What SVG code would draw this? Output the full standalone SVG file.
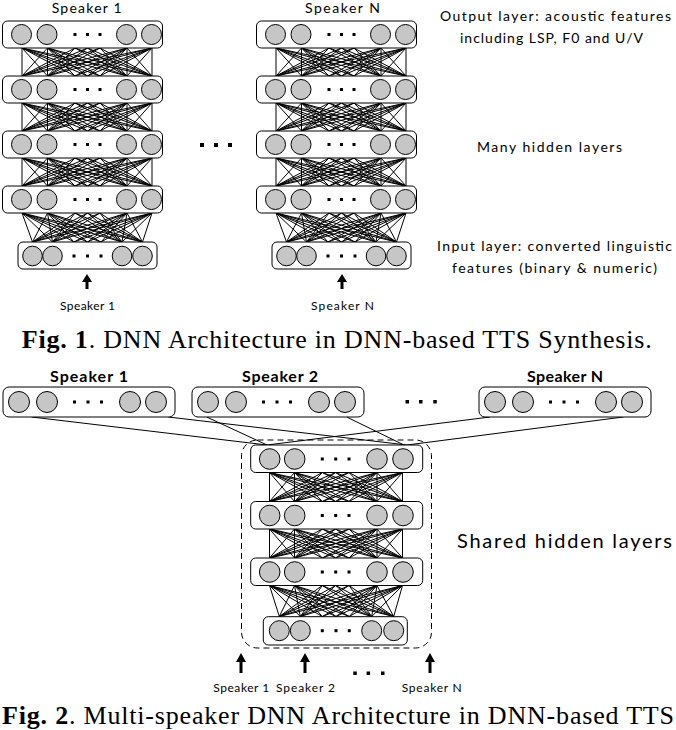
<svg xmlns="http://www.w3.org/2000/svg" xmlns:xlink="http://www.w3.org/1999/xlink" width="676" height="730" viewBox="0 0 676 730">
<style>
.box{fill:#fff;stroke:#000;stroke-width:1}
.n{fill:#c6c6c6;stroke:#000;stroke-width:1}
.dot{fill:#000}
.cn{fill:none;stroke:#000;stroke-width:1}
.arr{fill:#000}
.lbl{font-family:Lato,"Open Sans","DejaVu Sans",sans-serif;fill:#000;text-anchor:middle}
.cap{font-family:"Liberation Serif","Times New Roman",serif;font-size:26px;fill:#000}
.b{font-weight:bold}
</style>
<defs>
<g id="L1h">
<rect class="box" x="2.5" y="0" width="160" height="27" rx="5"/>
<circle class="n" cx="21.5" cy="13.5" r="10"/>
<circle class="n" cx="47" cy="13.5" r="10"/>
<circle class="n" cx="126.5" cy="13.5" r="10"/>
<circle class="n" cx="151.5" cy="13.5" r="10"/>
<rect class="dot" x="73.5" y="12" width="3" height="3"/>
<rect class="dot" x="86" y="12" width="3" height="3"/>
<rect class="dot" x="98.5" y="12" width="3" height="3"/>
</g>
<g id="L1i">
<rect class="box" x="18" y="0" width="139" height="27" rx="5"/>
<circle class="n" cx="32.5" cy="14" r="9.8"/>
<circle class="n" cx="52.5" cy="14" r="9.8"/>
<circle class="n" cx="122" cy="14" r="9.8"/>
<circle class="n" cx="142.5" cy="14" r="9.8"/>
<rect class="dot" x="72.5" y="12.5" width="3" height="3"/>
<rect class="dot" x="86" y="12.5" width="3" height="3"/>
<rect class="dot" x="99.5" y="12.5" width="3" height="3"/>
</g>
<g id="SP">
<rect class="box" x="0" y="0" width="172" height="30" rx="6"/>
<circle class="n" cx="16" cy="15" r="10.5"/>
<circle class="n" cx="44" cy="15" r="10.5"/>
<circle class="n" cx="127" cy="15" r="10.5"/>
<circle class="n" cx="153" cy="15" r="10.5"/>
<rect class="dot" x="70" y="13.5" width="3" height="3"/>
<rect class="dot" x="83.5" y="13.5" width="3" height="3"/>
<rect class="dot" x="97" y="13.5" width="3" height="3"/>
</g>
<g id="L2h">
<rect class="box" x="0" y="0" width="172" height="27.5" rx="5"/>
<circle class="n" cx="19" cy="14" r="10.3"/>
<circle class="n" cx="44" cy="14" r="10.3"/>
<circle class="n" cx="126.3" cy="14" r="10.3"/>
<circle class="n" cx="152.3" cy="14" r="10.3"/>
<rect class="dot" x="70.1" y="12.5" width="3" height="3"/>
<rect class="dot" x="83.5" y="12.5" width="3" height="3"/>
<rect class="dot" x="96.8" y="12.5" width="3" height="3"/>
</g>
<g id="L2i">
<rect class="box" x="0" y="0" width="144" height="28.3" rx="5"/>
<circle class="n" cx="16" cy="14" r="10"/>
<circle class="n" cx="37" cy="14" r="10"/>
<circle class="n" cx="108.4" cy="14" r="10"/>
<circle class="n" cx="130.4" cy="14" r="10"/>
<rect class="dot" x="57.5" y="12.5" width="3" height="3"/>
<rect class="dot" x="71.2" y="12.5" width="3" height="3"/>
<rect class="dot" x="84.5" y="12.5" width="3" height="3"/>
</g>
<path id="B1h" class="cn" d="M22 0L22 28M22 0L47.5 28M22 0L127 28M22 0L152 28M47.5 0L22 28M47.5 0L47.5 28M47.5 0L127 28M47.5 0L152 28M127 0L22 28M127 0L47.5 28M127 0L127 28M127 0L152 28M152 0L22 28M152 0L47.5 28M152 0L127 28M152 0L152 28
M22 0L75 28M22 0L87.5 28M22 0L100 28M47.5 0L75 28M47.5 0L87.5 28M47.5 0L100 28M127 0L75 28M127 0L87.5 28M127 0L100 28M152 0L75 28M152 0L87.5 28M152 0L100 28
M75 0L22 28M75 0L47.5 28M75 0L127 28M75 0L152 28M87.5 0L22 28M87.5 0L47.5 28M87.5 0L127 28M87.5 0L152 28M100 0L22 28M100 0L47.5 28M100 0L127 28M100 0L152 28"/>
<path id="B1i" class="cn" d="M22 0L32.5 29M22 0L52.5 29M22 0L122 29M22 0L142.5 29M47.5 0L32.5 29M47.5 0L52.5 29M47.5 0L122 29M47.5 0L142.5 29M127 0L32.5 29M127 0L52.5 29M127 0L122 29M127 0L142.5 29M152 0L32.5 29M152 0L52.5 29M152 0L122 29M152 0L142.5 29
M22 0L74 29M22 0L87.5 29M22 0L101 29M47.5 0L74 29M47.5 0L87.5 29M47.5 0L101 29M127 0L74 29M127 0L87.5 29M127 0L101 29M152 0L74 29M152 0L87.5 29M152 0L101 29
M75 0L32.5 29M75 0L52.5 29M75 0L122 29M75 0L142.5 29M87.5 0L32.5 29M87.5 0L52.5 29M87.5 0L122 29M87.5 0L142.5 29M100 0L32.5 29M100 0L52.5 29M100 0L122 29M100 0L142.5 29"/>
<path id="B2h" class="cn" d="M269.5 0L269.5 29M269.5 0L294.5 29M269.5 0L377 29M269.5 0L402.5 29M294.5 0L269.5 29M294.5 0L294.5 29M294.5 0L377 29M294.5 0L402.5 29M377 0L269.5 29M377 0L294.5 29M377 0L377 29M377 0L402.5 29M402.5 0L269.5 29M402.5 0L294.5 29M402.5 0L377 29M402.5 0L402.5 29
M269.5 0L322.3 29M269.5 0L335.7 29M269.5 0L349 29M294.5 0L322.3 29M294.5 0L335.7 29M294.5 0L349 29M377 0L322.3 29M377 0L335.7 29M377 0L349 29M402.5 0L322.3 29M402.5 0L335.7 29M402.5 0L349 29
M322.3 0L269.5 29M322.3 0L294.5 29M322.3 0L377 29M322.3 0L402.5 29M335.7 0L269.5 29M335.7 0L294.5 29M335.7 0L377 29M335.7 0L402.5 29M349 0L269.5 29M349 0L294.5 29M349 0L377 29M349 0L402.5 29"/>
<path id="B2i" class="cn" d="M269.5 0L279.3 31M269.5 0L300.3 31M269.5 0L371.7 31M269.5 0L393.7 31M294.5 0L279.3 31M294.5 0L300.3 31M294.5 0L371.7 31M294.5 0L393.7 31M377 0L279.3 31M377 0L300.3 31M377 0L371.7 31M377 0L393.7 31M402.5 0L279.3 31M402.5 0L300.3 31M402.5 0L371.7 31M402.5 0L393.7 31
M269.5 0L322.3 31M269.5 0L336 31M269.5 0L349.3 31M294.5 0L322.3 31M294.5 0L336 31M294.5 0L349.3 31M377 0L322.3 31M377 0L336 31M377 0L349.3 31M402.5 0L322.3 31M402.5 0L336 31M402.5 0L349.3 31
M322.3 0L279.3 31M322.3 0L300.3 31M322.3 0L371.7 31M322.3 0L393.7 31M335.7 0L279.3 31M335.7 0L300.3 31M335.7 0L371.7 31M335.7 0L393.7 31M349 0L279.3 31M349 0L300.3 31M349 0L371.7 31M349 0L393.7 31"/>
</defs>

<g id="connectors">
<use xlink:href="#B1h" href="#B1h" transform="translate(0,48)"/>
<use xlink:href="#B1h" href="#B1h" transform="translate(0,103)"/>
<use xlink:href="#B1h" href="#B1h" transform="translate(0,158)"/>
<use xlink:href="#B1i" href="#B1i" transform="translate(0,213)"/>
<use xlink:href="#B1h" href="#B1h" transform="translate(254,48)"/>
<use xlink:href="#B1h" href="#B1h" transform="translate(254,103)"/>
<use xlink:href="#B1h" href="#B1h" transform="translate(254,158)"/>
<use xlink:href="#B1i" href="#B1i" transform="translate(254,213)"/>
<use xlink:href="#B2h" href="#B2h" transform="translate(0,472.5)"/>
<use xlink:href="#B2h" href="#B2h" transform="translate(0,529)"/>
<use xlink:href="#B2i" href="#B2i" transform="translate(0,585.5)"/>
<path class="cn" d="M31.7 417L267 445M168.3 417L407 445M206.7 417L267 445M346.7 417L404 445M490 417L267 445M623.3 417L407 445"/>
<path class="arr" d="M87 274L92 282L88.5 282L88.5 289L85.5 289L85.5 282L82 282Z"/>
<path class="arr" d="M342 274L347 282L343.5 282L343.5 289L340.5 289L340.5 282L337 282Z"/>
<path class="arr" d="M241 653L246 662L242.5 662L242.5 673L239.5 673L239.5 662L236 662Z"/>
<path class="arr" d="M305 653L310 662L306.5 662L306.5 673L303.5 673L303.5 662L300 662Z"/>
<path class="arr" d="M430 653L435 662L431.5 662L431.5 673L428.5 673L428.5 662L425 662Z"/>
</g>

<g id="fig1-spk1">
<g id="s1-out"><use xlink:href="#L1h" href="#L1h" y="21"/></g>
<g id="s1-h1"><use xlink:href="#L1h" href="#L1h" y="76"/></g>
<g id="s1-h2"><use xlink:href="#L1h" href="#L1h" y="131"/></g>
<g id="s1-h3"><use xlink:href="#L1h" href="#L1h" y="186"/></g>
<g id="s1-in"><use xlink:href="#L1i" href="#L1i" y="242"/></g>
</g>
<g id="fig1-spkN">
<g id="sN-out"><use xlink:href="#L1h" href="#L1h" x="254" y="21"/></g>
<g id="sN-h1"><use xlink:href="#L1h" href="#L1h" x="254" y="76"/></g>
<g id="sN-h2"><use xlink:href="#L1h" href="#L1h" x="254" y="131"/></g>
<g id="sN-h3"><use xlink:href="#L1h" href="#L1h" x="254" y="186"/></g>
<g id="sN-in"><use xlink:href="#L1i" href="#L1i" x="254" y="242"/></g>
</g>

<g id="fig2-out1"><use xlink:href="#SP" href="#SP" x="3" y="387"/></g>
<g id="fig2-out2"><use xlink:href="#SP" href="#SP" x="192" y="387"/></g>
<g id="fig2-outN"><use xlink:href="#SP" href="#SP" x="479" y="387"/></g>
<g id="fig2-shared">
<rect x="241.5" y="440" width="190" height="208" rx="16" fill="none" stroke="#000" stroke-width="1" stroke-dasharray="6,4"/>
<g id="f2-h1"><use xlink:href="#L2h" href="#L2h" x="250.7" y="445"/></g>
<g id="f2-h2"><use xlink:href="#L2h" href="#L2h" x="250.7" y="501.5"/></g>
<g id="f2-h3"><use xlink:href="#L2h" href="#L2h" x="250.7" y="558"/></g>
<g id="f2-in"><use xlink:href="#L2i" href="#L2i" x="263.3" y="616.7"/></g>
</g>

<g id="ellipses">
<rect class="dot" x="200" y="143" width="4" height="4"/>
<rect class="dot" x="214" y="143" width="4" height="4"/>
<rect class="dot" x="228" y="143" width="4" height="4"/>
<rect class="dot" x="405.5" y="400" width="3.5" height="3.5"/>
<rect class="dot" x="419" y="400" width="3.5" height="3.5"/>
<rect class="dot" x="433.3" y="400" width="3.5" height="3.5"/>
<rect class="dot" x="353.3" y="671.5" width="3.5" height="3.5"/>
<rect class="dot" x="366.6" y="671.5" width="3.5" height="3.5"/>
<rect class="dot" x="381" y="671.5" width="3.5" height="3.5"/>
</g>

<g id="labels">
<text class="lbl" x="86.7" y="13" font-size="14" textLength="70">Speaker 1</text>
<text class="lbl" x="342.5" y="13" font-size="14" textLength="75">Speaker N</text>
<text class="lbl" x="87.5" y="310" font-size="12" textLength="55">Speaker 1</text>
<text class="lbl" x="342.5" y="310" font-size="12" textLength="63">Speaker N</text>
<text class="lbl" x="555.5" y="21" font-size="14" textLength="231">Output layer: acoustic features</text>
<text class="lbl" x="551.5" y="43" font-size="14" textLength="183">including LSP, F0 and U/V</text>
<text class="lbl" x="549.5" y="152" font-size="14" textLength="145">Many hidden layers</text>
<text class="lbl" x="554.5" y="251" font-size="14" textLength="235">Input layer: converted linguistic</text>
<text class="lbl" x="554.5" y="273" font-size="14" textLength="205">features (binary &amp; numeric)</text>
<text class="lbl b" x="89" y="382" font-size="16" textLength="78">Speaker 1</text>
<text class="lbl b" x="280" y="382" font-size="16" textLength="76">Speaker 2</text>
<text class="lbl b" x="565" y="382" font-size="16" textLength="76">Speaker N</text>
<text class="lbl" x="564.5" y="548" font-size="20" textLength="215">Shared hidden layers</text>
<text class="lbl" x="241.3" y="692" font-size="12" textLength="56">Speaker 1</text>
<text class="lbl" x="305.5" y="692" font-size="12" textLength="59">Speaker 2</text>
<text class="lbl" x="431.7" y="692" font-size="12" textLength="60">Speaker N</text>
<text class="cap" x="21.7" y="348" textLength="630"><tspan class="b">Fig. 1</tspan>. DNN Architecture in DNN-based TTS Synthesis.</text>
<text class="cap" x="2" y="724" textLength="672"><tspan class="b">Fig. 2</tspan>. Multi-speaker DNN Architecture in DNN-based TTS</text>
</g>
</svg>
